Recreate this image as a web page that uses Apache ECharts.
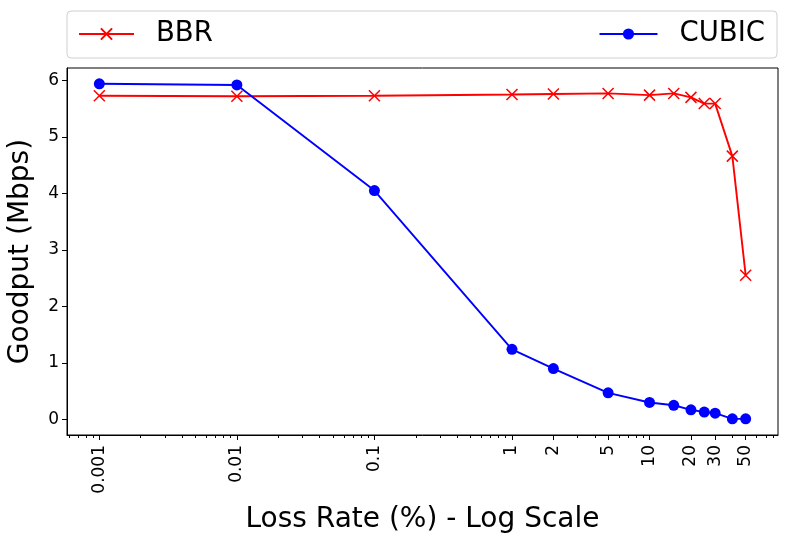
<!DOCTYPE html>
<html><head><meta charset="utf-8">
<script src="https://cdn.jsdelivr.net/npm/echarts@6/dist/echarts.min.js"></script>
<style>html,body{margin:0;padding:0;background:#fff}#c{width:790px;height:544px}</style>
</head><body><div id="c"></div>
<script>
const lossRates = [0.001, 0.01, 0.1, 1, 2, 5, 10, 15, 20, 25, 30, 40, 50];
const bbrGoodput = [5.73, 5.72, 5.73, 5.75, 5.76, 5.77, 5.74, 5.77, 5.70, 5.59, 5.59, 4.66, 2.55];
const cubicGoodput = [5.94, 5.92, 4.05, 1.24, 0.90, 0.47, 0.30, 0.25, 0.17, 0.13, 0.11, 0.01, 0.01];
const xTickValues = [0.001, 0.01, 0.1, 1, 2, 5, 10, 20, 30, 50];
const yTickValues = [0, 1, 2, 3, 4, 5, 6];

const FONT = 'DejaVu Sans';
const xMark = 'path://M0,0 L10,10 M10,0 L0,10';
const chart = echarts.init(document.getElementById('c'), null, {renderer: 'canvas'});
function fmt(v){ return String(+Number(v).toPrecision(3)); }
chart.setOption({
  animation: false,
  textStyle: {fontFamily: FONT},
  grid: {left: 67, right: 12, top: 68, bottom: 109, outerBoundsMode: 'none', containLabel: false,
    show: true, borderColor: '#000', borderWidth: 1},
  graphic: [{type: 'rect', shape: {x: 67, y: 11, width: 710, height: 47, r: 4},
    style: {fill: '#fff', stroke: '#d0d0d0', lineWidth: 1}, z: -1}],
  legend: [
    {data: ['BBR'], left: 78, top: 20, padding: 0, itemWidth: 55, itemHeight: 14,
     textStyle: {fontSize: 27.5, fontFamily: FONT, color: '#000', padding: [0, 0, 0, 17]}},
    {data: ['CUBIC'], right: 25, top: 20, padding: 0, itemWidth: 58, itemHeight: 14,
     textStyle: {fontSize: 27.5, fontFamily: FONT, color: '#000', padding: [0, 0, 0, 17]}}
  ],
  xAxis: {
    type: 'log', logBase: 10, min: 0.000582, max: 85.9,
    name: 'Loss Rate (%) - Log Scale', nameLocation: 'middle', nameGap: 71,
    nameTextStyle: {fontSize: 28, color: '#000', fontFamily: FONT},
    axisLine: {show: true, onZero: false, lineStyle: {color: '#000'}},
    axisTick: {show: true, inside: false, length: 5, customValues: xTickValues, lineStyle: {color: '#000'}},
    minorTick: {show: true, splitNumber: 9, length: 3, lineStyle: {color: '#000'}},
    axisLabel: {show: true, rotate: 90, fontSize: 17, color: '#000', margin: 10, customValues: xTickValues,
      formatter: fmt},
    splitLine: {show: false}
  },
  yAxis: {
    type: 'value', min: -0.276, max: 6.22,
    name: 'Goodput (Mbps)', nameLocation: 'middle', nameGap: 32,
    nameTextStyle: {fontSize: 28, color: '#000', fontFamily: FONT},
    axisLine: {show: true, lineStyle: {color: '#000'}},
    axisTick: {show: true, length: 5, customValues: yTickValues, lineStyle: {color: '#000'}},
    axisLabel: {fontSize: 17, color: '#000', customValues: yTickValues, margin: 8},
    splitLine: {show: false}
  },
  series: [
    {name: 'BBR', type: 'line', data: lossRates.map((x, i) => [x, bbrGoodput[i]]),
     color: '#ff0000', symbol: xMark, symbolSize: 11, showAllSymbol: true,
     lineStyle: {color: '#ff0000', width: 1.9},
     itemStyle: {color: '#ff0000', borderColor: '#ff0000', borderWidth: 1.5}},
    {name: 'CUBIC', type: 'line', data: lossRates.map((x, i) => [x, cubicGoodput[i]]),
     color: '#0000ff', symbol: 'circle', symbolSize: 11, showAllSymbol: true,
     lineStyle: {color: '#0000ff', width: 1.9},
     itemStyle: {color: '#0000ff', borderWidth: 0}}
  ]
});
</script></body></html>
